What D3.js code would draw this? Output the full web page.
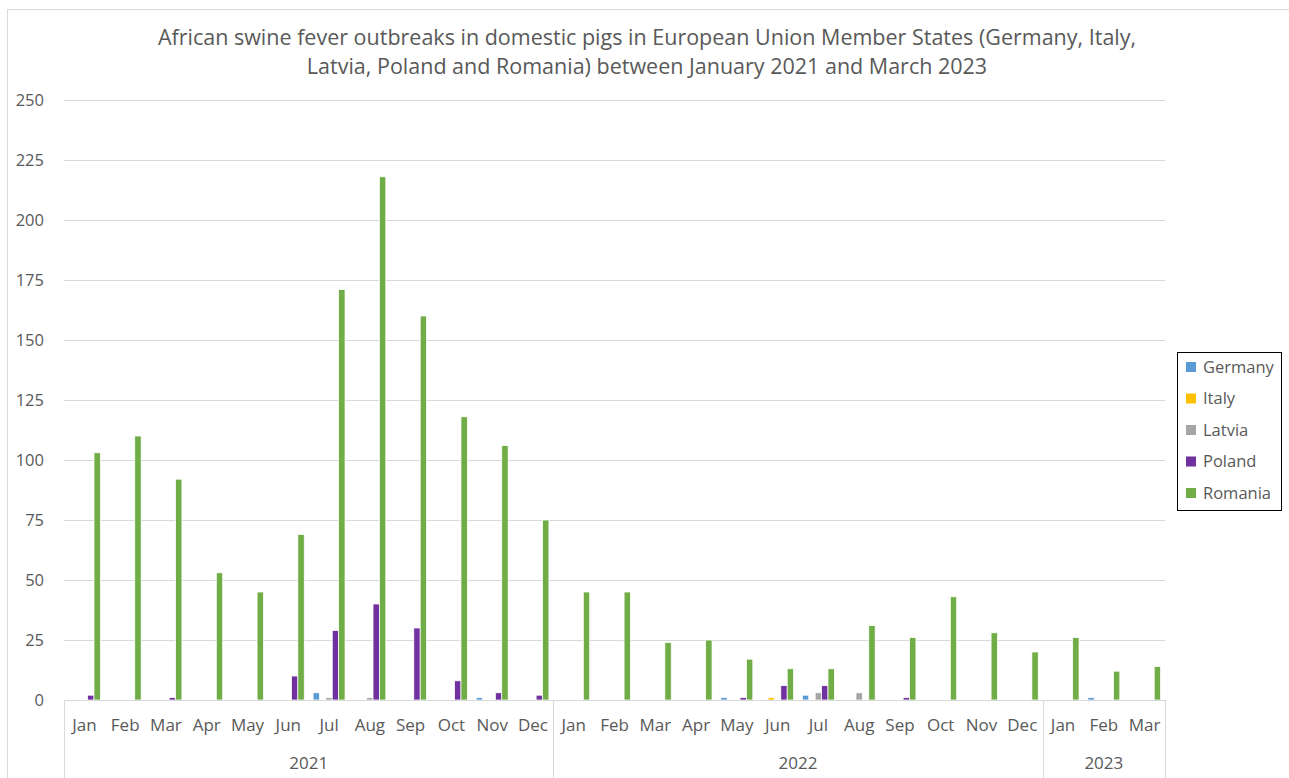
<!DOCTYPE html>
<html>
<head>
<meta charset="utf-8">
<script src="https://cdn.jsdelivr.net/npm/d3@7"></script>
<style>
  html, body { margin: 0; padding: 0; background: #fff; }
  svg { display: block; font-family: "Open Sans", "Noto Sans", sans-serif; }
</style>
</head>
<body>
<svg id="chart" width="1289" height="778"></svg>
<script>
// ---- Data ----
const months = ["Jan","Feb","Mar","Apr","May","Jun","Jul","Aug","Sep","Oct","Nov","Dec",
                "Jan","Feb","Mar","Apr","May","Jun","Jul","Aug","Sep","Oct","Nov","Dec",
                "Jan","Feb","Mar"];
const years = ["2021","2022","2023"];
const yearSpans = [12, 12, 3];
const seriesNames = ["Germany","Italy","Latvia","Poland","Romania"];
const germany = [0,0,0,0,0,0,3,0,0,0,1,0, 0,0,0,0,1,0,2,0,0,0,0,0, 0,1,0];
const italy   = [0,0,0,0,0,0,0,0,0,0,0,0, 0,0,0,0,0,1,0,0,0,0,0,0, 0,0,0];
const latvia  = [0,0,0,0,0,0,1,1,0,0,0,0, 0,0,0,0,0,0,3,3,0,0,0,0, 0,0,0];
const poland  = [2,0,1,0,0,10,29,40,30,8,3,2, 0,0,0,0,1,6,6,0,1,0,0,0, 0,0,0];
const romania = [103,110,92,53,45,69,171,218,160,118,106,75, 45,45,24,25,17,13,13,31,26,43,28,20, 26,12,14];
const yTicks = [0,25,50,75,100,125,150,175,200,225,250];
const titleLines = ["African swine fever outbreaks in domestic pigs in European Union Member States (Germany, Italy,",
                    "Latvia, Poland and Romania) between January 2021 and March 2023"];

(function () {
const seriesValues = [germany, italy, latvia, poland, romania];
const colors = ["#5B9BD5","#FFC000","#A5A5A5","#7030A0","#70AD47"];

// ---- Layout ----
const svg = d3.select("#chart");
const pLeft = 64, pRight = 1165, pTop = 100, pBottom = 700;
const textColor = "#595959";
const lineColor = "#D9D9D9";

// outer chart border
svg.append("rect").attr("x", 7.5).attr("y", 9.5).attr("width", 1300).attr("height", 800)
  .attr("fill", "none").attr("stroke", lineColor).attr("stroke-width", 1);

const catIdx = months.map((m, i) => i);
const x0 = d3.scaleBand().domain(catIdx).range([pLeft, pRight]).padding(0);
const x1 = d3.scaleBand().domain(seriesNames).range([0, x0.bandwidth()]).paddingInner(0).paddingOuter(0.69);
const y = d3.scaleLinear().domain([0, 250]).range([pBottom, pTop]);

// gridlines
svg.append("g").selectAll("line").data(yTicks.filter(t => t > 0)).join("line")
  .attr("x1", pLeft).attr("x2", pRight)
  .attr("y1", d => Math.round(y(d)) + 0.5).attr("y2", d => Math.round(y(d)) + 0.5)
  .attr("stroke", lineColor).attr("stroke-width", 1);

// y axis labels
const yAxis = d3.axisLeft(y).tickValues(yTicks).tickSize(0).tickPadding(0);
const gy = svg.append("g").attr("transform", `translate(44,0)`).call(yAxis);
gy.select(".domain").remove();
gy.selectAll("text").attr("fill", textColor).style("font-size", "16.5px")
  .style("font-family", "'Open Sans', sans-serif");

// title
svg.append("g").selectAll("text").data(titleLines).join("text")
  .attr("x", 647).attr("y", (d, i) => 45 + i * 29)
  .attr("text-anchor", "middle").attr("fill", textColor)
  .style("font-size", "21.5px").text(d => d);

// bars
const barData = [];
seriesNames.forEach((s, si) => {
  seriesValues[si].forEach((v, ci) => {
    if (v > 0) barData.push({ s, si, ci, v });
  });
});
svg.append("g").selectAll("rect").data(barData).join("rect")
  .attr("x", d => x0(d.ci) + x1(d.s))
  .attr("y", d => y(d.v))
  .attr("width", x1.bandwidth())
  .attr("height", d => y(0) - y(d.v))
  .attr("fill", d => colors[d.si])
  .attr("stroke", "#fff").attr("stroke-width", 0.75);

// x axis baseline and year separators
svg.append("line").attr("x1", pLeft).attr("x2", pRight)
  .attr("y1", pBottom + 0.5).attr("y2", pBottom + 0.5)
  .attr("stroke", lineColor).attr("stroke-width", 1);
let cum = 0;
const seps = [0];
yearSpans.forEach(n => { cum += n; seps.push(cum); });
svg.append("g").selectAll("line").data(seps).join("line")
  .attr("x1", d => Math.round(pLeft + d * x0.step()) + 0.5)
  .attr("x2", d => Math.round(pLeft + d * x0.step()) + 0.5)
  .attr("y1", pBottom).attr("y2", 778)
  .attr("stroke", lineColor).attr("stroke-width", 1);

// month labels
const xAxis = d3.axisBottom(x0).tickFormat(i => months[i]).tickSize(0).tickPadding(0);
const gx = svg.append("g").attr("transform", `translate(0,${pBottom + 25})`).call(xAxis);
gx.select(".domain").remove();
gx.selectAll("text").attr("fill", textColor).style("font-size", "17px")
  .style("font-family", "'Open Sans', sans-serif").attr("dy", "0.35em");

// year labels
let start = 0;
const yearPos = years.map((yr, i) => {
  const s = start; start += yearSpans[i];
  return { yr, mid: pLeft + (s + yearSpans[i] / 2) * x0.step() };
});
svg.append("g").selectAll("text").data(yearPos).join("text")
  .attr("x", d => d.mid).attr("y", 763).attr("dy", "0.35em")
  .attr("text-anchor", "middle").attr("fill", textColor)
  .style("font-size", "17px").text(d => d.yr);

// legend
const lg = svg.append("g");
lg.append("rect").attr("x", 1177.5).attr("y", 352.5).attr("width", 104).attr("height", 158)
  .attr("fill", "#fff").attr("stroke", "#000").attr("stroke-width", 1);
const items = lg.selectAll("g.item").data(seriesNames).join("g").attr("class", "item")
  .attr("transform", (d, i) => `translate(1186, ${367 + i * 31.5})`);
items.append("rect").attr("x", 0).attr("y", -5).attr("width", 10).attr("height", 10)
  .attr("fill", (d, i) => colors[i]);
items.append("text").attr("x", 17).attr("y", 0).attr("dy", "0.35em")
  .attr("fill", textColor).style("font-size", "16.5px").text(d => d);
})();
</script>
</body>
</html>
